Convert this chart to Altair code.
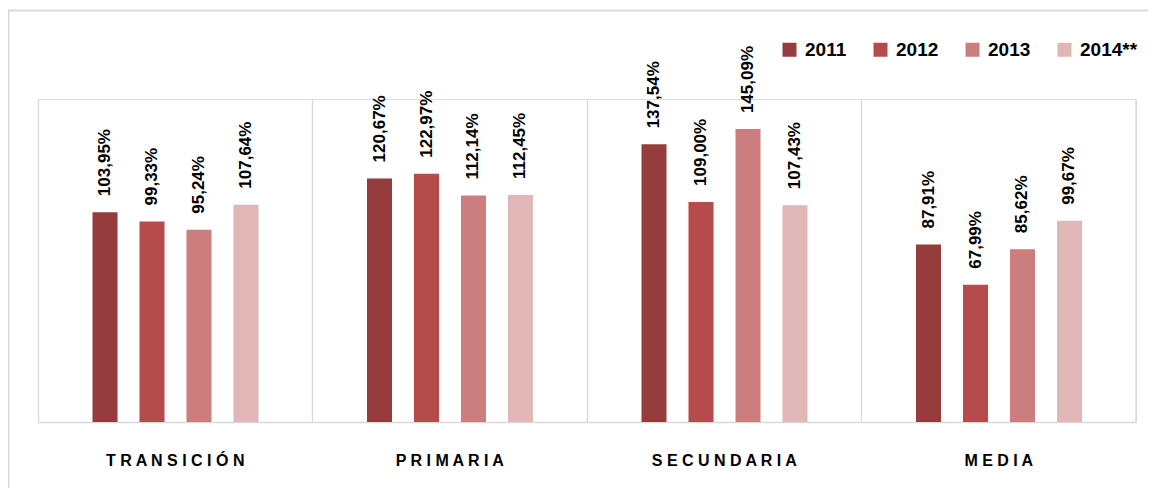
import altair as alt
import pandas as pd

categories = ["TRANSICIÓN", "PRIMARIA", "SECUNDARIA", "MEDIA"]
years = ["2011", "2012", "2013", "2014**"]
v2011 = [103.95, 120.67, 137.54, 87.91]
v2012 = [99.33, 122.97, 109.00, 67.99]
v2013 = [95.24, 112.14, 145.09, 85.62]
v2014 = [107.64, 112.45, 107.43, 99.67]
colors = ["#963C3C", "#B54B4A", "#CC7E7E", "#E0B6B6"]

series = [v2011, v2012, v2013, v2014]
rows = []
for yi, yr in enumerate(years):
    for ci, cat in enumerate(categories):
        v = series[yi][ci]
        rows.append({"cat": cat, "year": yr, "value": v,
                     "label": f"{v:.2f}".replace(".", ",") + "%"})
df = pd.DataFrame(rows)

W, H = 1098, 323
FONT = "Liberation Sans"

x_enc = alt.X("cat:N", sort=categories,
              scale=alt.Scale(paddingInner=0, paddingOuter=0),
              axis=alt.Axis(title=None, grid=True, bandPosition=0,
                            gridColor="#d9d9d9", gridWidth=1.3,
                            ticks=False, domainColor="#d9d9d9", domainWidth=1.5,
                            labelFont=FONT, labelFontSize=16, labelFontWeight="bold",
                            labelColor="#000000", labelPadding=30, labelAngle=0,
                            labelExpr="join(split(datum.label, ''), ' ')"))
xo_scale = alt.Scale(range=[54.5, 220.5], paddingInner=0.468, paddingOuter=0)
xo_enc = alt.XOffset("year:N", sort=years, scale=xo_scale)
y_enc = alt.Y("value:Q", scale=alt.Scale(domain=[0, 160], nice=False),
              axis=None)

bars = alt.Chart(df).mark_bar().encode(
    x=x_enc, xOffset=xo_enc, y=y_enc,
    color=alt.Color("year:N", sort=years,
                    scale=alt.Scale(domain=years, range=colors),
                    legend=alt.Legend(title=None, orient="none", direction="horizontal",
                                      legendX=742, legendY=-59,
                                      symbolType="square", symbolSize=196,
                                      symbolStrokeWidth=0,
                                      labelFont=FONT, labelFontSize=19,
                                      labelFontWeight="bold", labelColor="#000000",
                                      labelOffset=6, columnPadding=24, padding=0))
)

texts = alt.Chart(df).mark_text(angle=270, align="left", baseline="middle", dx=16,
                                font=FONT, fontSize=17, fontWeight="bold",
                                color="#000000").encode(
    x=alt.X("cat:N", sort=categories),
    xOffset=alt.XOffset("year:N", sort=years, scale=xo_scale),
    y="value:Q", text="label:N")

edge = alt.Chart(pd.DataFrame({"cat": [categories[-1]]})).mark_rule(
    color="#d9d9d9", strokeWidth=1.3).encode(
    x=alt.X("cat:N", sort=categories, bandPosition=1),
    y=alt.value(0), y2=alt.value(H))

frame = alt.Chart(pd.DataFrame({"a": [0]})).mark_rect(
    fillOpacity=0, stroke="#d9d9d9", strokeWidth=2).encode(
    x=alt.value(-29.5), x2=alt.value(W + 100),
    y=alt.value(-88.5), y2=alt.value(H + 200))

chart = alt.layer(frame, bars, edge, texts).properties(
    width=W, height=H,
    autosize=alt.AutoSizeParams(type="none"),
    padding={"left": 30, "top": 91, "right": 12, "bottom": 66},
).configure_view(stroke=None).configure(background="white")

chart.save("out.html", embed_options={"renderer": "svg", "actions": False})
